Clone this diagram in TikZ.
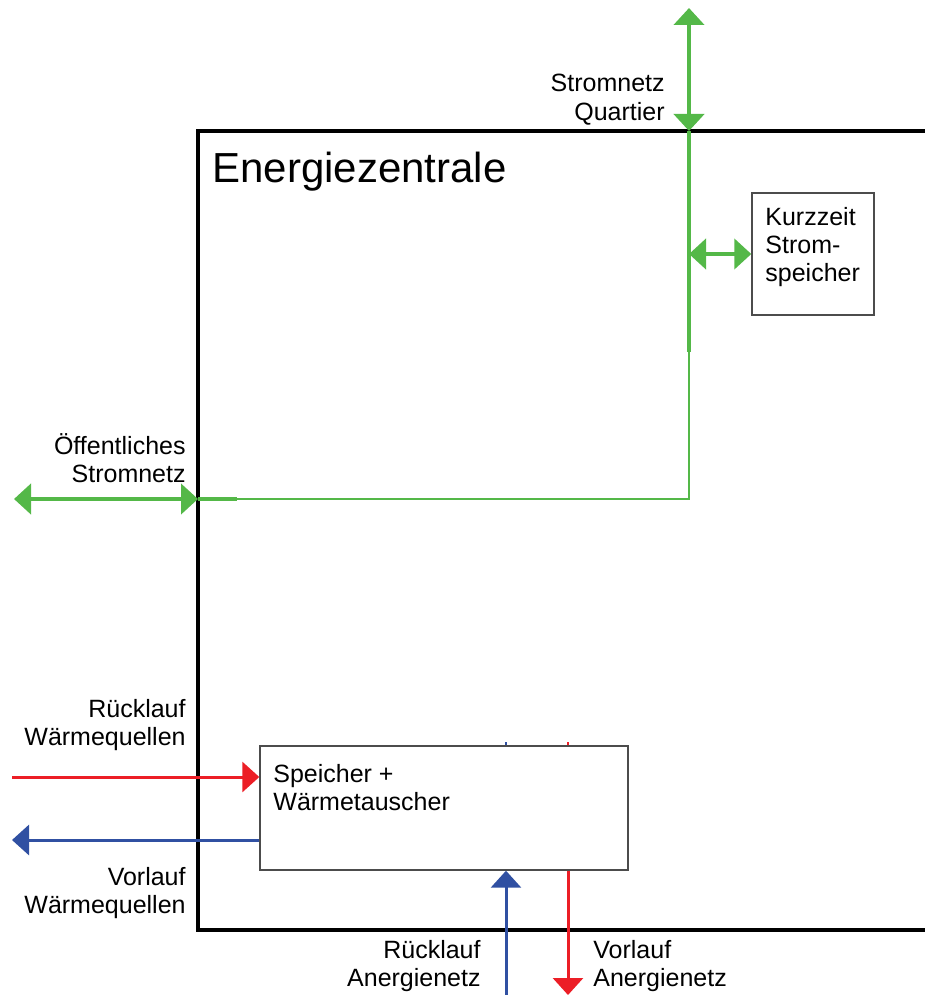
\documentclass[tikz,border=0pt]{standalone}
\usepackage{fontspec}
\setmainfont{Liberation Sans}
\usetikzlibrary{arrows.meta}
\definecolor{stromgruen}{RGB}{84,184,72}
\definecolor{vorlaufrot}{RGB}{236,30,38}
\definecolor{ruecklaufblau}{RGB}{48,80,162}
\begin{document}
\begin{tikzpicture}[x = 0.5pt, y = -0.5pt,
	wand/.style = {black, line width = 2pt},
	kasten/.style = {draw = black!70, line width = 0.7pt, inner sep = 0pt},
	txt/.style = {font = \fontsize{12.5}{14}\selectfont, inner sep = 0pt},
	pfeil/.tip = {Triangle[width = 15pt, length = 8.5pt]},
	strom/.style = {stromgruen, line width = 2.2pt, pfeil-pfeil},
	bus/.style = {stromgruen, line width = 1pt},
	rot/.style = {vorlaufrot, line width = 1.5pt, -pfeil},
	blau/.style = {ruecklaufblau, line width = 1.5pt, -pfeil}]
			\useasboundingbox (0, 0) rectangle (925, 995);
			% Rahmen der Energiezentrale, rechts offen
			\draw[wand] (925, 131) -- (198, 131) -- (198, 930) -- (925, 930);
			\node[anchor = base west, inner sep = 0pt, font = \fontsize{21}{24}\selectfont] (titel) at (212, 182) {Energiezentrale};
			% Kaesten (base = Grundlinie der letzten Zeile)
			\node[kasten, minimum width = 61pt, minimum height = 61pt] (kurz) at (813, 254) {};
			\node[txt, anchor = base west, align = left] (kurztxt) at (765, 281) {Kurzzeit\\Strom-\\speicher};
			\node[kasten, minimum width = 184pt, minimum height = 62pt] (sp) at (444, 808) {};
			\node[txt, anchor = base west, align = left] (sptxt) at (273, 810) {Speicher +\\Wärmetauscher};
			% Beschriftungen aussen
			\node[txt, anchor = base east, align = right] (quartier) at (665, 120) {Stromnetz\\Quartier};
			\node[txt, anchor = base east, align = right] (oeffentlich) at (186, 482) {Öffentliches\\Stromnetz};
			\node[txt, anchor = base east, align = right] (rwq) at (186, 745) {Rücklauf\\Wärmequellen};
			\node[txt, anchor = base east, align = right] (vwq) at (186, 913) {Vorlauf\\Wärmequellen};
			\node[txt, anchor = base east, align = right] (ran) at (481, 986) {Rücklauf\\Anergienetz};
			\node[txt, anchor = base west, align = left] (van) at (593, 986) {Vorlauf\\Anergienetz};
			% Stromschiene
			\coordinate (qoben) at (689, 8);
			\coordinate (qwand) at (689, 131);
			\coordinate (qknick) at (689, 352);
			\coordinate (qabzw) at (kurz.west -| qwand);
			\coordinate (ecke) at (689, 499);
			\coordinate (olinks) at (14, 499);
			\coordinate (owand) at (198, 499);
			\coordinate (oende) at (237, 499);
			\draw[strom] (qoben) -- (qwand);
			\draw[stromgruen, line width = 2.2pt] (qwand) -- (qknick);
			\draw[bus] (qknick) -- (ecke) -- (oende);
			\draw[strom] (olinks) -- (owand);
			\draw[stromgruen, line width = 2.2pt] (owand) -- (oende);
			\draw[strom] (qabzw) -- (kurz.west);
			% Waermequellen
			\coordinate (rwqlinks) at (12, 777);
			\coordinate (vwqlinks) at (12, 840);
			\draw[rot] (rwqlinks) -- (sp.west |- rwqlinks);
			\draw[blau] (sp.west |- vwqlinks) -- (vwqlinks);
			% Anergienetz
			\coordinate (ranunten) at (506, 995);
			\coordinate (vanunten) at (568, 995);
			\draw[blau] (ranunten) -- (ranunten |- sp.south);
			\draw[rot] (vanunten |- sp.south) -- (vanunten);
			\draw[ruecklaufblau, line width = 1pt] (ranunten |- sp.north) -- ++(0, -3);
			\draw[vorlaufrot, line width = 1pt] (vanunten |- sp.north) -- ++(0, -3);
\end{tikzpicture}
\end{document}
